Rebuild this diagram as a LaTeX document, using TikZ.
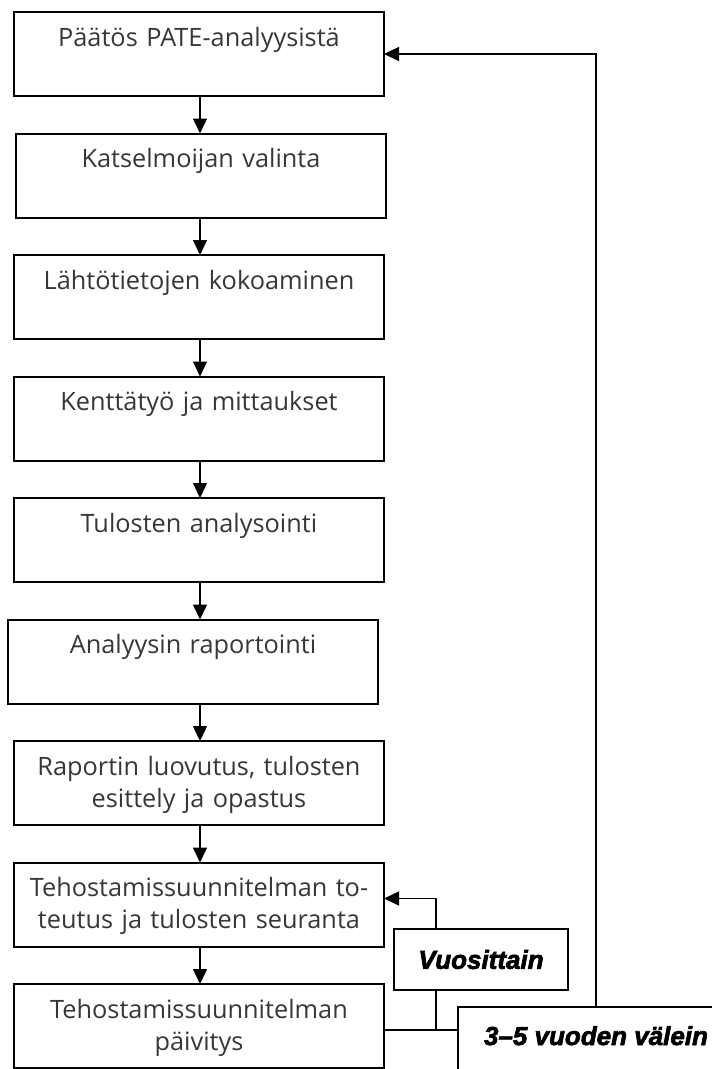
\documentclass[tikz,border=0pt]{standalone}
\usepackage{fontspec}
\setmainfont{Open Sans}
\newfontfamily\tagfont[BoldItalicFeatures={FakeBold=2.5}]{Liberation Sans}
\usepackage{tikz}
\usetikzlibrary{arrows.meta, positioning}
\definecolor{txtgray}{RGB}{55,55,55}
\tikzset{
  stepbox/.style={rectangle, draw=black, line width=2pt, inner sep=0pt, outer sep=0pt,
    minimum width=370pt, text width=360pt, align=center,
    text height=34pt, text depth=50pt, text=txtgray,
    font=\fontsize{25.3}{32}\selectfont},
  tagbox/.style={rectangle, draw=black, line width=2pt, inner sep=0pt, outer sep=0pt,
    fill=white, font=\tagfont\bfseries\itshape\fontsize{26}{30}\selectfont},
  arrow/.style={-{Triangle[length=15pt,width=14pt]}, line width=1.4pt, color=black},
  line/.style={line width=1.4pt, color=black}
}

\begin{document}
\begin{tikzpicture}
  \clip (0,0) rectangle (712pt,-1069pt);
  \fill[white] (0,0) rectangle (712pt,-1069pt);
  \coordinate (spine) at (200pt,0);

  \node[stepbox] (paatos) at (199pt,-54pt) {Päätös PATE-analyysistä};
  \node[stepbox, below=37.5pt of paatos, xshift=2pt] (valinta) {Katselmoijan valinta};
  \node[stepbox, below=37.5pt of valinta, xshift=-2pt] (lahto) {Lähtötietojen kokoaminen};
  \node[stepbox, below=37.5pt of lahto] (kentta) {Kenttätyö ja mittaukset};
  \node[stepbox, below=37.5pt of kentta] (analysointi) {Tulosten analysointi};
  \node[stepbox, below=37.5pt of analysointi, xshift=-6pt] (raportointi) {Analyysin raportointi};
  \node[stepbox, below=37.5pt of raportointi, xshift=6pt] (luovutus) {Raportin luovutus, tulosten\\esittely ja opastus};
  \node[stepbox, below=37.5pt of luovutus] (toteutus) {Tehostamissuunnitelman to-\\teutus ja tulosten seuranta};
  \node[stepbox, below=37.5pt of toteutus] (paivitys) {Tehostamissuunnitelman\\päivitys};

  \node[tagbox, minimum width=174pt, minimum height=61pt] (vuosi) at (481pt,-959.5pt) {Vuosittain};
  \node[tagbox, minimum width=276pt, text height=38pt, text depth=55pt] (valein) at (596pt,-1053.5pt) {3–5 vuoden välein};

  \foreach \a/\b in {paatos/valinta, valinta/lahto, lahto/kentta, kentta/analysointi,
      analysointi/raportointi, raportointi/luovutus, luovutus/toteutus, toteutus/paivitys}
    \draw[arrow] (\a.south -| spine) -- (\b.north -| spine);

  % takaisinkytkennat
  \draw[arrow] (valein.north) |- (paatos.east);
  \draw[arrow] ([xshift=-45pt]vuosi.north) |- ([yshift=6pt]toteutus.east);
  \draw[line] ([xshift=-45pt]vuosi.south) -- ++(0,-40pt);
  \draw[line] ([yshift=-4pt]paivitys.east) -- ([yshift=-4pt]paivitys.east -| valein.west);
\end{tikzpicture}
\end{document}
